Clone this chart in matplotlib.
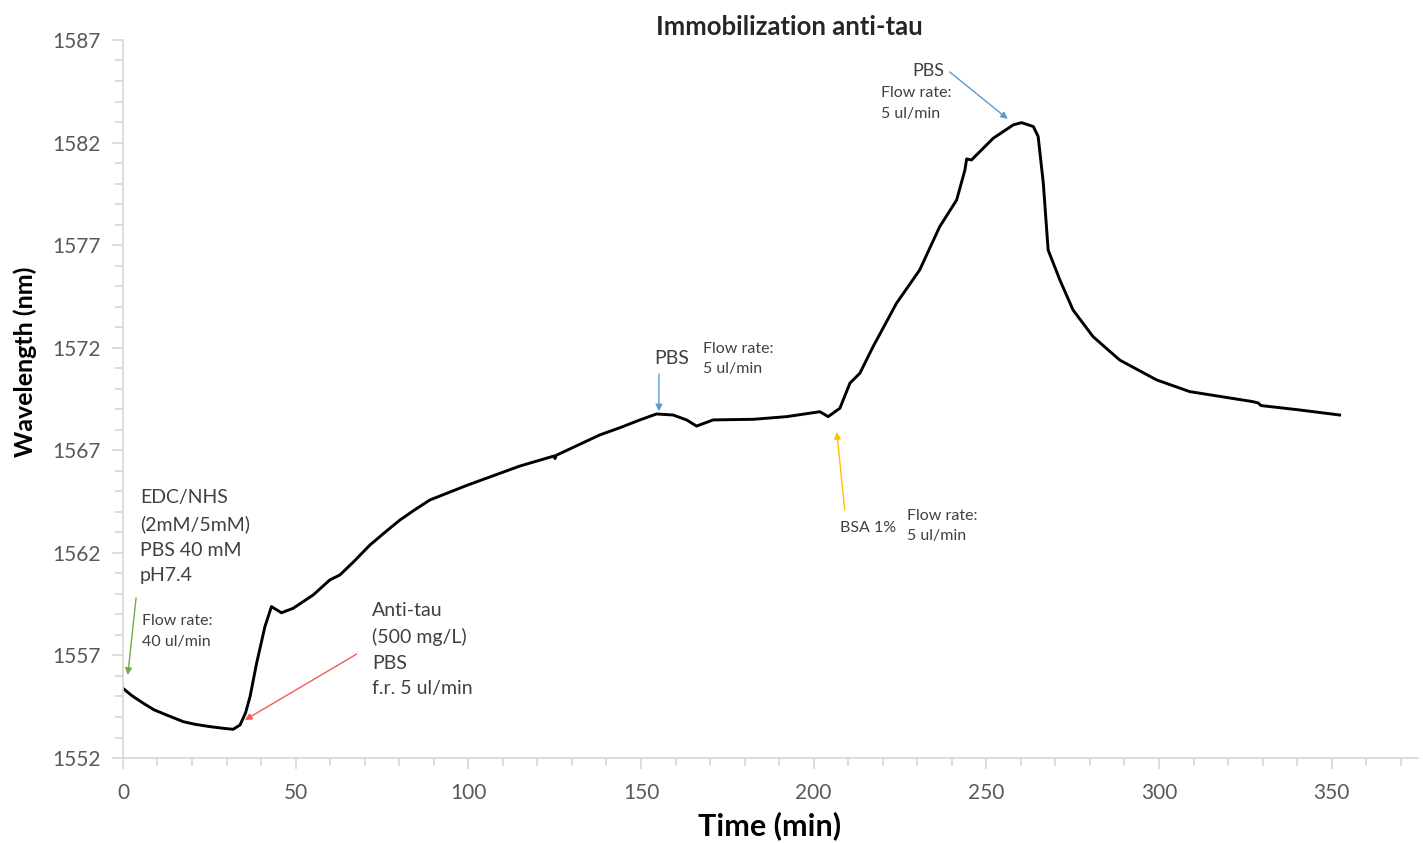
import matplotlib
matplotlib.use("Agg")
import matplotlib.pyplot as plt
from matplotlib.ticker import MultipleLocator

plt.rcParams['font.family'] = ['Lato', 'DejaVu Sans']

# Data
time_min = [0, 2.5, 5.9, 9.0, 12.6, 17.5, 21.0, 25.2, 29.0, 31.9, 33.9, 35.5, 36.8, 38.7,
            41.1, 43.0, 45.9, 49.3, 55.1, 59.9, 62.8, 67.0, 71.5, 76.0, 80.2, 84.5,
            88.9, 99.9, 114.9, 124.8, 125.1, 125.4, 138.1, 143.9, 149.7, 154.5, 159.3,
            163.2, 166.1, 170.9, 182.5, 192.2, 201.8, 204.2, 207.6, 210.5, 213.4, 217.2,
            224.0, 230.7, 236.5, 241.4, 243.8, 244.3, 245.7, 252.0, 257.8, 260.2, 263.6,
            265.0, 266.5, 267.9, 271.3, 275.1, 280.9, 288.6, 299.3, 308.9, 327.2, 328.8,
            329.5, 340.0, 352.3]
wavelength_nm = [1555.40, 1555.05, 1554.67, 1554.35, 1554.10, 1553.77, 1553.64, 1553.53,
                 1553.45, 1553.40, 1553.61, 1554.20, 1554.99, 1556.62, 1558.40, 1559.38,
                 1559.08, 1559.30, 1559.95, 1560.68, 1560.92, 1561.60, 1562.38, 1563.02,
                 1563.60, 1564.10, 1564.58, 1565.31, 1566.23, 1566.72, 1566.60, 1566.75,
                 1567.75, 1568.10, 1568.48, 1568.77, 1568.72, 1568.48, 1568.18, 1568.48,
                 1568.51, 1568.64, 1568.88, 1568.64, 1569.05, 1570.27, 1570.76, 1572.05,
                 1574.17, 1575.79, 1577.90, 1579.20, 1580.66, 1581.20, 1581.15, 1582.21,
                 1582.86, 1582.97, 1582.78, 1582.30, 1580.02, 1576.76, 1575.30, 1573.84,
                 1572.54, 1571.40, 1570.43, 1569.86, 1569.37, 1569.30, 1569.18, 1568.98,
                 1568.72]

x_ticks = [0, 50, 100, 150, 200, 250, 300, 350]
y_ticks = [1552, 1557, 1562, 1567, 1572, 1577, 1582, 1587]

title = "Immobilization anti-tau"
x_label = "Time (min)"
y_label = "Wavelength (nm)"

W, H = 1423, 843
fig = plt.figure(figsize=(W / 100, H / 100), dpi=100)
ax = fig.add_axes([0.0864, 0.1008, 0.9101, 0.8518])
ax.plot(time_min, wavelength_nm, color='black', lw=2.1, solid_joinstyle='round')

ax.set_xlim(0, 375)
ax.set_ylim(1552, 1587)
ax.set_xticks(x_ticks)
ax.set_yticks(y_ticks)
ax.xaxis.set_minor_locator(MultipleLocator(10))
ax.yaxis.set_minor_locator(MultipleLocator(1))

axis_col = '#d9d9d9'
for s in ['top', 'right']:
    ax.spines[s].set_visible(False)
for s in ['left', 'bottom']:
    ax.spines[s].set_color(axis_col)
    ax.spines[s].set_linewidth(1.3)
ax.tick_params(which='major', direction='out', length=8, width=1.3, color=axis_col,
               labelsize=15, labelcolor='#595959')
ax.tick_params(which='minor', direction='out', length=6, width=1.3, color=axis_col)
ax.tick_params(axis='x', which='major', pad=10)
ax.tick_params(axis='y', which='major', pad=8)

fig.text(789 / W, 1 - 27 / H, title, fontsize=18.5, fontweight='bold', color='#262626',
         ha='center', va='center')
fig.text(770 / W, 1 - 826 / H, x_label, fontsize=22, fontweight='bold', color='black',
         ha='center', va='center')
fig.text(25 / W, 1 - 362 / H, y_label, fontsize=18, fontweight='bold', color='black',
         ha='center', va='center', rotation=90)

tc = '#404040'
big = 14
small = 11.5

ax.text(4.9, 1565.1, "EDC/NHS\n(2mM/5mM)\nPBS 40 mM\npH7.4", fontsize=big, color=tc,
        va='top', ha='left', linespacing=1.6)
ax.text(5.5, 1559.0, "Flow rate:\n40 ul/min", fontsize=small, color=tc,
        va='top', ha='left', linespacing=1.6)
ax.text(72.1, 1559.6, "Anti-tau\n(500 mg/L)\nPBS\nf.r. 5 ul/min", fontsize=big, color=tc,
        va='top', ha='left', linespacing=1.6)
ax.text(153.7, 1571.45, "PBS", fontsize=big, color=tc, va='center', ha='left')
ax.text(167.9, 1572.3, "Flow rate:\n5 ul/min", fontsize=small, color=tc,
        va='top', ha='left', linespacing=1.6)
ax.text(207.6, 1563.2, "BSA 1%", fontsize=small, color=tc, va='center', ha='left')
ax.text(227.0, 1564.15, "Flow rate:\n5 ul/min", fontsize=small, color=tc,
        va='top', ha='left', linespacing=1.6)
ax.text(228.7, 1585.5, "PBS", fontsize=13, color=tc, va='center', ha='left')
ax.text(219.5, 1584.75, "Flow rate:\n5 ul/min", fontsize=small, color=tc,
        va='top', ha='left', linespacing=1.6)

def arrow(x0, y0, x1, y1, col):
    ax.annotate("", xy=(x1, y1), xytext=(x0, y0),
                arrowprops=dict(arrowstyle='-|>', color=col, lw=1.0,
                                mutation_scale=10, shrinkA=0, shrinkB=0))

arrow(3.8, 1559.8, 1.4, 1556.05, '#70ad47')
arrow(67.7, 1557.07, 35.3, 1553.85, '#f05a5a')
arrow(155.2, 1570.72, 155.2, 1568.9, '#5b9bd5')
arrow(209.0, 1564.09, 206.7, 1567.89, '#ffc000')
arrow(239.4, 1585.44, 256.2, 1583.15, '#5b9bd5')

fig.savefig("out.png", dpi=100)
